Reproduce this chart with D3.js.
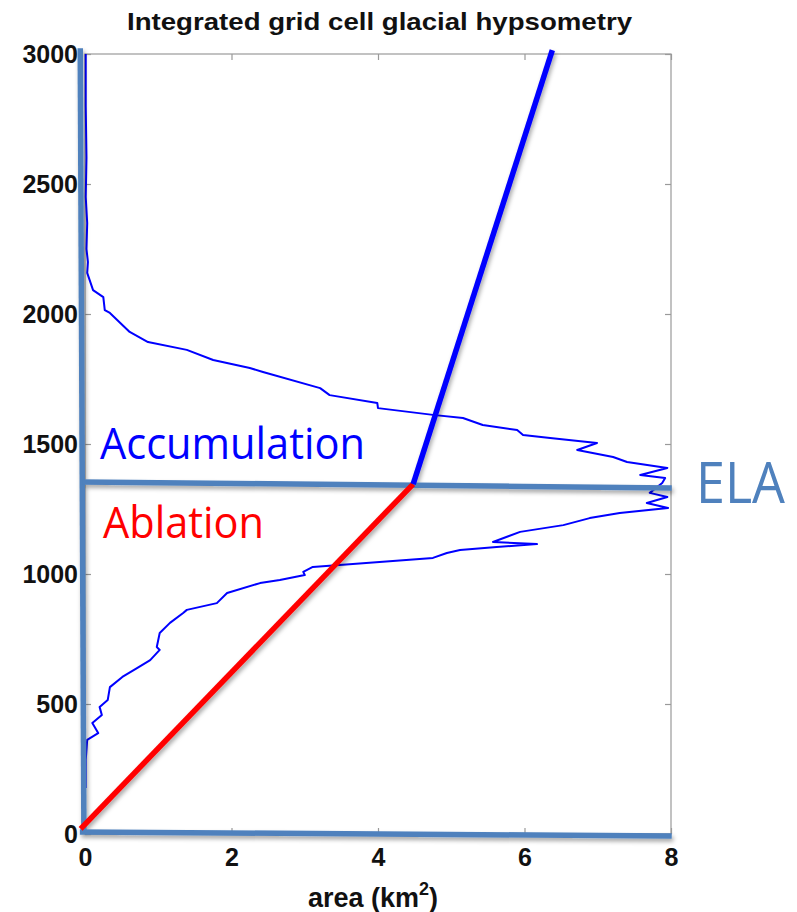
<!DOCTYPE html>
<html>
<head>
<meta charset="utf-8">
<script src="https://cdn.jsdelivr.net/npm/d3@7"></script>
<style>
  html, body { margin: 0; padding: 0; background: #fff; }
  svg { display: block; }
</style>
</head>
<body>
<svg id="chart" width="797" height="912"></svg>
<script>
// hypsometry curve, top (high) to bottom (low)
var areaKm2 = [0.01, 0.01, 0.02, 0.01, 0.03, 0.02, 0.04, 0.03, 0.11, 0.25, 0.27, 0.34, 0.61, 0.86,
  1.39, 1.75, 2.25, 2.43, 3.21, 3.34, 3.99, 4.00, 4.75, 5.16, 5.43, 5.90, 5.98, 6.35, 6.99, 6.72,
  7.21, 7.40, 7.95, 7.58, 7.92, 7.88, 7.71, 7.95, 7.67, 7.96, 7.30, 6.89, 6.53, 5.94, 5.57, 6.17,
  5.62, 5.12, 4.94, 4.75, 3.11, 2.98, 3.00, 2.66, 2.39, 1.94, 1.80, 1.39, 1.34, 1.16, 1.02, 0.98,
  1.02, 0.89, 0.71, 0.51, 0.34, 0.31, 0.20, 0.23, 0.10, 0.18, 0.03, 0.01, 0.01];
var elevationM = [3000, 2800, 2600, 2450, 2350, 2250, 2200, 2158, 2092, 2065, 2015, 2004, 1931, 1892,
  1862, 1823, 1792, 1777, 1715, 1688, 1658, 1638, 1612, 1600, 1573, 1554, 1535, 1523, 1504, 1477,
  1450, 1431, 1408, 1381, 1369, 1350, 1312, 1296, 1273, 1254, 1235, 1215, 1188, 1162, 1123, 1115,
  1104, 1092, 1081, 1062, 1027, 1008, 996, 977, 965, 927, 888, 862, 850, 812, 773, 719,
  708, 669, 638, 604, 565, 515, 488, 458, 427, 388, 362, 285, 177];

// annotation lines drawn over the plot (area, elevation)
var ablationLine = [[-0.06, 20], [4.48, 1346]];
var accumulationLine = [[4.48, 1346], [6.38, 3015]];
var elaLine = [[-0.04, 1354], [8.01, 1331]];
var leftLine = [[-0.065, 3022], [-0.015, 8]];
var bottomLine = [[-0.07, 8], [8.01, -8]];

var xTicks = [0, 2, 4, 6, 8];
var yTicks = [0, 500, 1000, 1500, 2000, 2500, 3000];

var margin = {left: 85, top: 54, right: 126, bottom: 78};
var svg = d3.select("#chart");
var W = +svg.attr("width") - margin.left - margin.right;
var H = +svg.attr("height") - margin.top - margin.bottom;

var x = d3.scaleLinear().domain([0, 8]).range([0, W]);
var y = d3.scaleLinear().domain([0, 3000]).range([H, 0]);

var defs = svg.append("defs");
var shadow = defs.append("filter").attr("id", "shadow")
  .attr("x", "-10%").attr("y", "-10%").attr("width", "120%").attr("height", "120%");
shadow.append("feDropShadow").attr("dx", 1.5).attr("dy", 3).attr("stdDeviation", 2)
  .attr("flood-color", "#000").attr("flood-opacity", 0.35);

var g = svg.append("g").attr("transform", "translate(" + margin.left + "," + margin.top + ")");

// title
svg.append("text")
  .attr("x", 127).attr("y", 30)
  .style("font-family", "Liberation Sans, Arial, sans-serif")
  .style("font-weight", "bold").style("font-size", "24px")
  .attr("textLength", 505).attr("lengthAdjust", "spacingAndGlyphs")
  .attr("fill", "#111")
  .text("Integrated grid cell glacial hypsometry");

// box
g.append("rect").attr("width", W).attr("height", H)
  .attr("fill", "none").attr("stroke", "#9a9a9a").attr("stroke-width", 1.2);

var tickLen = 6;
var axisStyle = function (sel) {
  sel.select(".domain").remove();
  sel.selectAll(".tick line").attr("stroke", "#9a9a9a").attr("stroke-width", 1.2);
  sel.selectAll(".tick text")
    .style("font-family", "Liberation Sans, Arial, sans-serif")
    .style("font-weight", "bold").style("font-size", "25px").attr("fill", "#111");
};

g.append("g").attr("transform", "translate(0," + H + ")")
  .call(d3.axisBottom(x).tickValues(xTicks).tickSize(-tickLen).tickPadding(14).tickFormat(d3.format("d")))
  .call(axisStyle);
g.append("g")
  .call(d3.axisTop(x).tickValues(xTicks).tickSize(-tickLen).tickFormat(""))
  .call(axisStyle);
g.append("g")
  .call(d3.axisLeft(y).tickValues(yTicks).tickSize(-tickLen).tickPadding(7).tickFormat(d3.format("d")))
  .call(axisStyle);
g.append("g").attr("transform", "translate(" + W + ",0)")
  .call(d3.axisRight(y).tickValues(yTicks).tickSize(-tickLen).tickFormat(""))
  .call(axisStyle);

// x label
var xl = svg.append("text")
  .attr("x", 308).attr("y", 907)
  .style("font-family", "Liberation Sans, Arial, sans-serif")
  .style("font-weight", "bold").style("font-size", "27px").attr("fill", "#111");
xl.append("tspan").text("area (km");
xl.append("tspan").attr("dy", -12).style("font-size", "18px").text("2");
xl.append("tspan").attr("dy", 12).text(")");

var line = d3.line().x(function (d) { return x(d[0]); }).y(function (d) { return y(d[1]); });

// hypsometry curve
var curve = d3.zip(areaKm2, elevationM);
g.append("path").datum(curve).attr("d", line)
  .attr("fill", "none").attr("stroke", "#0000ff").attr("stroke-width", 2)
  .attr("stroke-linejoin", "round");

// overlay annotation lines
var overlay = g.append("g").attr("filter", "url(#shadow)");
[leftLine, bottomLine, elaLine].forEach(function (l) {
  overlay.append("path").datum(l).attr("d", line)
    .attr("fill", "none").attr("stroke", "#4f81bd").attr("stroke-width", 5.5);
});
overlay.append("path").datum(ablationLine).attr("d", line)
  .attr("fill", "none").attr("stroke", "#ff0000").attr("stroke-width", 5.5);
overlay.append("path").datum(accumulationLine).attr("d", line)
  .attr("fill", "none").attr("stroke", "#0000ff").attr("stroke-width", 5.5);

// annotation text
var annot = function (txt, px, py, size, len, color) {
  svg.append("text").attr("x", px).attr("y", py)
    .style("font-family", "Open Sans, Noto Sans, sans-serif")
    .style("font-size", size + "px").attr("fill", color)
    .attr("textLength", len).attr("lengthAdjust", "spacingAndGlyphs")
    .text(txt);
};
annot("Accumulation", 100, 459, 43, 265, "#0000ff");
annot("Ablation", 103, 538, 43, 161, "#ff0000");
annot("ELA", 696, 503, 56, 89, "#4f81bd");
</script>
</body>
</html>
